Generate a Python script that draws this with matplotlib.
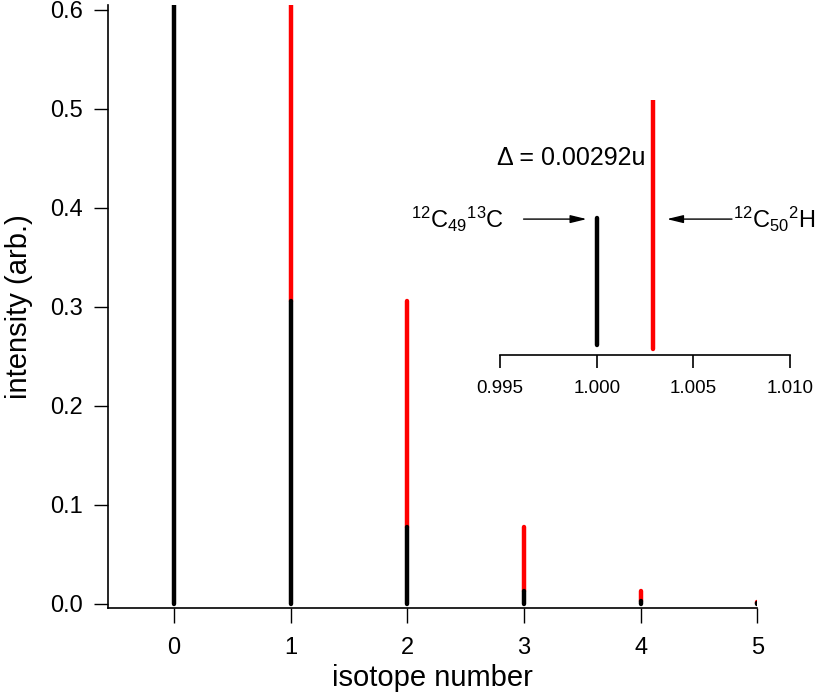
import matplotlib.pyplot as plt

plt.rcParams['font.family'] = ['Liberation Sans', 'DejaVu Sans']
plt.rcParams['mathtext.fontset'] = 'custom'
plt.rcParams['mathtext.rm'] = 'Liberation Sans'
plt.rcParams['mathtext.it'] = 'Liberation Sans:italic'
plt.rcParams['mathtext.bf'] = 'Liberation Sans:bold'

# isotope envelope: black = 13C only, red top = total incl. 2H
isotopes = [0, 1, 2, 3, 4, 5]
black_vals = [0.605, 0.306, 0.077, 0.013, 0.003, 0.0003]
total_vals = [0.605, 0.605, 0.306, 0.077, 0.013, 0.002]
yticks = [0.0, 0.1, 0.2, 0.3, 0.4, 0.5, 0.6]

# inset: the two species at isotope number 1
inset_mass = [1.000, 1.00292]
inset_base = [0.016, 0.0]
inset_top = [0.526, 1.0]
inset_colors = ['black', 'red']
inset_ticks = [0.995, 1.000, 1.005, 1.010]

fig = plt.figure(figsize=(8.16, 6.92), dpi=100)
ax = fig.add_axes([0.132, 0.122, 0.796, 0.871])

ax.vlines(isotopes, black_vals, total_vals, color='red', lw=3.2, capstyle='round')
ax.vlines(isotopes, 0, black_vals, color='black', lw=3.2, capstyle='round')

ax.set_xlim(-0.57, 5.0)
ax.set_ylim(-0.004, 0.605)
ax.set_xticks(isotopes)
ax.set_yticks(yticks)
ax.set_yticklabels(['%.1f' % v for v in yticks])
ax.spines['top'].set_visible(False)
ax.spines['right'].set_visible(False)
for s in ['left', 'bottom']:
    ax.spines[s].set_linewidth(1.2)
ax.tick_params(axis='x', direction='out', length=11, width=1, labelsize=17, pad=10.5)
ax.tick_params(axis='y', direction='out', length=10, width=1, labelsize=17, pad=8)
ax.set_xlabel('isotope number', fontsize=21, labelpad=3)
ax.set_ylabel('intensity (arb.)', fontsize=21, labelpad=12)

# inset
ins = fig.add_axes([0.613, 0.487, 0.355, 0.368])
ins.vlines(inset_mass, inset_base, inset_top, colors=inset_colors, lw=3.2, capstyle='round')
ins.set_xlim(0.995, 1.010)
ins.set_ylim(-0.025, 1.0)
ins.set_xticks(inset_ticks)
ins.set_xticklabels(['%.3f' % v for v in inset_ticks])
ins.set_yticks([])
for s in ['top', 'right', 'left']:
    ins.spines[s].set_visible(False)
ins.spines['bottom'].set_linewidth(1.2)
ins.patch.set_alpha(0)
ins.tick_params(axis='x', direction='out', length=9, width=1.2, labelsize=13.5, pad=9)

arrow = dict(arrowstyle='-|>,head_length=0.7,head_width=0.17', color='black',
             lw=1, mutation_scale=14, shrinkA=0, shrinkB=0)
ins.text(1.00254, 0.767, '\u0394 = 0.00292u', fontsize=18, ha='right', va='center')
ins.annotate('', xy=(0.99948, 0.522), xytext=(0.99621, 0.522), arrowprops=arrow)
ins.annotate('', xy=(1.00363, 0.522), xytext=(1.0070, 0.522), arrowprops=arrow)
ins.text(0.99522, 0.522, r'$^{12}$C$_{49}$$^{13}$C', fontsize=17, ha='right', va='center')
ins.text(1.00703, 0.522, r'$^{12}$C$_{50}$$^{2}$H', fontsize=17, ha='left', va='center')

fig.savefig('out.png', dpi=100)
